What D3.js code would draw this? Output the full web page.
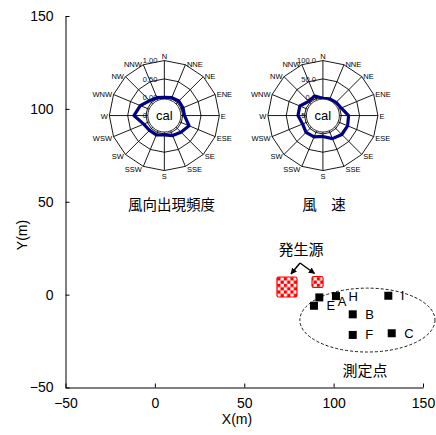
<!DOCTYPE html>
<html>
<head>
<meta charset="utf-8">
<script src="https://cdn.jsdelivr.net/npm/d3@7"></script>
<style>
  body { margin: 0; background: #fff; }
  text { font-family: "Liberation Sans", Arial, sans-serif; }
  .jp { font-family: "Noto Sans CJK JP", sans-serif; }
</style>
</head>
<body>
<div id="chart"></div>
<script>
// axis ticks
const xTicks = [-50, 0, 50, 100, 150];
const yTicks = [-50, 0, 50, 100, 150];

// wind roses
const directions = ["N", "NNE", "NE", "ENE", "E", "ESE", "SE", "SSE",
                    "S", "SSW", "SW", "WSW", "W", "WNW", "NW", "NNW"];
const freqValues = [0.00, 0.03, 0.06, 0.05, 0.05, 0.23, 0.14, 0.09,
                    0.03, 0.07, 0.07, 0.11, 0.33, 0.21, 0.07, 0.03];
const speedValues = [-3, -1, 1, 4, 20, 23, 23, 18,
                     7, 13, 15, 10, 18, 18, 5, 8];
const freqTicks = [-0.5, 0, 0.5, 1.0];
const speedTicks = [-50, 0, 50, 100];
const roseNames = ["風向出現頻度", "風　速"];
const roseX = [5.3, 94.0];
const roseY = [96.4, 96.4];

// measuring points and sources
const pointNames = ["A", "H", "E", "B", "I", "F", "C"];
const pointX = [92.0, 101.3, 89.0, 110.7, 130.6, 110.7, 132.5];
const pointY = [-1.5, -0.8, -6.0, -10.6, -0.6, -21.7, -20.8];
const sourceX = [73.9, 91.0];
const sourceY = [4.1, 6.8];

const width = 436, height = 435;
const margin = {top: 16, right: 13, bottom: 47.5, left: 65.5};

const svg = d3.select("#chart").append("svg")
    .attr("width", width)
    .attr("height", height);

const x = d3.scaleLinear().domain([-50, 150]).range([margin.left, width - margin.right]);
const y = d3.scaleLinear().domain([-50, 150]).range([height - margin.bottom, margin.top]);

// checker pattern for the sources
const defs = svg.append("defs");
const pat = defs.append("pattern")
    .attr("id", "checker")
    .attr("patternUnits", "userSpaceOnUse")
    .attr("width", 6.6).attr("height", 6.6);
pat.append("rect").attr("width", 6.6).attr("height", 6.6).attr("fill", "#fff");
pat.append("rect").attr("width", 3.3).attr("height", 3.3).attr("fill", "#ff0000");
pat.append("rect").attr("x", 3.3).attr("y", 3.3).attr("width", 3.3).attr("height", 3.3).attr("fill", "#ff0000");

defs.append("marker")
    .attr("id", "arrow")
    .attr("viewBox", "0 0 10 10")
    .attr("refX", 9).attr("refY", 5)
    .attr("markerWidth", 4.5).attr("markerHeight", 4.5)
    .attr("orient", "auto")
    .append("path")
    .attr("d", "M0,0L10,5L0,10z")
    .attr("fill", "#000");

// axes
const xAxis = svg.append("g")
    .attr("transform", "translate(0," + y(-50) + ")")
    .call(d3.axisBottom(x).tickValues(xTicks).tickSizeInner(-4).tickSizeOuter(0).tickPadding(11));
const yAxis = svg.append("g")
    .attr("transform", "translate(" + x(-50) + ",0)")
    .call(d3.axisLeft(y).tickValues(yTicks).tickSizeInner(-4).tickSizeOuter(0).tickPadding(12));
[xAxis, yAxis].forEach(a => {
    a.attr("font-size", 14).attr("font-family", "Liberation Sans, Arial, sans-serif");
    a.selectAll("path, line").attr("stroke", "#000").attr("stroke-width", 1);
    a.selectAll("text").attr("fill", "#000");
});

svg.append("text")
    .attr("x", 237).attr("y", height - 11)
    .attr("text-anchor", "middle")
    .attr("font-size", 14)
    .text("X(m)");
svg.append("text")
    .attr("transform", "translate(27,235) rotate(-90)")
    .attr("text-anchor", "middle")
    .attr("font-size", 14)
    .text("Y(m)");

// wind rose
function drawRose(cx, cy, values, ticks, fmt) {
    const R = 55;
    const r = d3.scaleLinear().domain([ticks[0], ticks[ticks.length - 1]]).range([0, R]);
    const ang = i => i * 2 * Math.PI / directions.length;
    const g = svg.append("g").attr("transform", "translate(" + cx + "," + cy + ")");

    const ring = d3.lineRadial()
        .angle((d, i) => ang(i))
        .radius(d => d)
        .curve(d3.curveLinearClosed);

    ticks.slice(1).forEach(t => {
        g.append("path")
            .attr("d", ring(directions.map(() => r(t))))
            .attr("fill", "none")
            .attr("stroke", "#000")
            .attr("stroke-width", 0.9);
    });

    g.selectAll(".spoke")
        .data(directions)
        .enter().append("line")
        .attr("x1", 0).attr("y1", 0)
        .attr("x2", (d, i) => R * Math.sin(ang(i)))
        .attr("y2", (d, i) => -R * Math.cos(ang(i)))
        .attr("stroke", "#000")
        .attr("stroke-width", 0.9);

    g.selectAll(".tick-label")
        .data(ticks)
        .enter().append("text")
        .attr("x", -7)
        .attr("y", d => -r(d))
        .attr("dy", "0.35em")
        .attr("text-anchor", "end")
        .attr("font-size", 7.5)
        .attr("fill", "#111")
        .text(fmt);

    g.append("path")
        .attr("d", ring(values.map(v => r(v))))
        .attr("fill", "none")
        .attr("stroke", "#000080")
        .attr("stroke-width", 3.2)
        .attr("stroke-linejoin", "round");

    g.append("circle")
        .attr("r", 16.5)
        .attr("fill", "#fff")
        .attr("stroke", "#000")
        .attr("stroke-width", 0.8);
    g.append("text")
        .attr("dy", "0.35em")
        .attr("text-anchor", "middle")
        .attr("font-size", 13)
        .text("cal");

    g.selectAll(".dir")
        .data(directions)
        .enter().append("text")
        .attr("x", (d, i) => {
            const s = Math.sin(ang(i));
            if (Math.abs(s) < 0.1) return 0;
            return R * s + (s > 0 ? 1.5 : -1.5);
        })
        .attr("y", (d, i) => {
            const c = Math.cos(ang(i));
            if (Math.abs(Math.sin(ang(i))) < 0.1) return c > 0 ? -R - 4 : R + 6;
            return -R * c + 1 - 2 * c;
        })
        .attr("dy", "0.35em")
        .attr("text-anchor", (d, i) => {
            const s = Math.sin(ang(i));
            if (Math.abs(s) < 0.1) return "middle";
            return s > 0 ? "start" : "end";
        })
        .attr("font-size", 7.5)
        .attr("fill", "#000")
        .text(d => d);
}

drawRose(x(roseX[0]), y(roseY[0]), freqValues, freqTicks, d3.format(".2f"));
drawRose(x(roseX[1]), y(roseY[1]), speedValues, speedTicks, d3.format(".1f"));

svg.append("text").attr("class", "jp")
    .attr("x", 171.5).attr("y", 205).attr("dy", "0.35em")
    .attr("text-anchor", "middle").attr("font-size", 14.5)
    .text(roseNames[0]);
svg.append("text").attr("class", "jp")
    .attr("x", 324).attr("y", 205).attr("dy", "0.35em")
    .attr("text-anchor", "middle").attr("font-size", 14.5)
    .text(roseNames[1]);

// dashed ellipse round the measuring points
svg.append("ellipse")
    .attr("cx", x(118.9)).attr("cy", y(-13.7))
    .attr("rx", x(118.9 + 37.8) - x(118.9))
    .attr("ry", y(-13.7 - 17.2) - y(-13.7))
    .attr("fill", "none")
    .attr("stroke", "#000")
    .attr("stroke-width", 0.9)
    .attr("stroke-dasharray", "3,2");

// sources
const srcSize = [20, 11];
svg.selectAll(".src")
    .data(sourceX)
    .enter().append("rect")
    .attr("x", (d, i) => x(d) - srcSize[i] / 2)
    .attr("y", (d, i) => y(sourceY[i]) - srcSize[i] / 2)
    .attr("width", (d, i) => srcSize[i])
    .attr("height", (d, i) => srcSize[i])
    .attr("rx", 1.5)
    .attr("fill", "url(#checker)")
    .attr("stroke", "#ff0000")
    .attr("stroke-width", 1.2);

svg.append("text").attr("class", "jp")
    .attr("x", 301).attr("y", 250).attr("dy", "0.35em")
    .attr("text-anchor", "middle").attr("font-size", 15)
    .text("発生源");

const apex = [300, 263];
sourceX.forEach((d, i) => {
    svg.append("line")
        .attr("x1", apex[0]).attr("y1", apex[1])
        .attr("x2", x(d) + (i === 0 ? 4 : -3))
        .attr("y2", y(sourceY[i]) - srcSize[i] / 2 - 3)
        .attr("stroke", "#000")
        .attr("stroke-width", 1.4)
        .attr("marker-end", "url(#arrow)");
});

// measuring points
svg.selectAll(".pt-label")
    .data(pointNames)
    .enter().append("text")
    .attr("x", (d, i) => x(pointX[i]) + (d === "A" ? 18.5 : 12.5))
    .attr("y", (d, i) => y(pointY[i]) + (d === "A" ? 4 : 0))
    .attr("dy", "0.35em")
    .attr("font-size", 13)
    .text(d => d);

svg.selectAll(".pt")
    .data(pointNames)
    .enter().append("rect")
    .attr("x", (d, i) => x(pointX[i]) - 4)
    .attr("y", (d, i) => y(pointY[i]) - 4)
    .attr("width", 8)
    .attr("height", 8)
    .attr("fill", "#000");

svg.append("text").attr("class", "jp")
    .attr("x", 365).attr("y", 371).attr("dy", "0.35em")
    .attr("text-anchor", "middle").attr("font-size", 15)
    .text("測定点");
</script>
</body>
</html>
